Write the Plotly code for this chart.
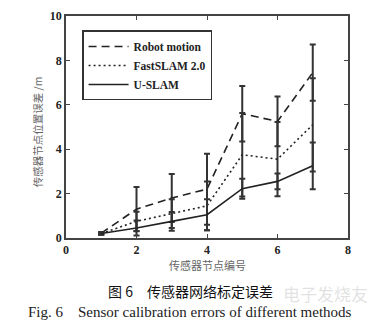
import plotly.graph_objects as go

nodes = [1, 2, 3, 4, 5, 6, 7]
robot = [0.22, 1.3, 1.8, 2.2, 5.6, 5.25, 7.45]
robot_err = [0.05, 1.0, 1.08, 1.6, 1.25, 1.12, 1.27]
fast = [0.2, 0.75, 1.1, 1.45, 3.75, 3.55, 5.1]
fast_err = [0.05, 0.43, 0.65, 1.1, 1.88, 1.67, 2.1]
uslam = [0.2, 0.45, 0.75, 1.05, 2.22, 2.55, 3.25]
uslam_err = [0.05, 0.34, 0.42, 0.7, 0.45, 0.35, 1.05]

names = ["Robot motion", "FastSLAM 2.0", "U-SLAM"]
dashes = ["8px,5px", "2px,3px", "solid"]
series = [(robot, robot_err), (fast, fast_err), (uslam, uslam_err)]

serif = "Liberation Serif, Times New Roman, serif"
cjk = "Noto Sans CJK SC"

fig = go.Figure()
for name, dash, (vals, errs) in zip(names, dashes, series):
    fig.add_trace(go.Scatter(
        x=nodes, y=vals, name=name, mode="lines",
        line=dict(color="#222222", width=1.6, dash=dash),
        error_y=dict(type="data", array=errs, visible=True,
                     color="#333333", thickness=2, width=3),
    ))

fig.update_layout(
    width=388, height=335,
    margin=dict(l=66, r=40, t=9, b=97),
    paper_bgcolor="white", plot_bgcolor="white",
    showlegend=True,
    legend=dict(x=0.057, y=0.935, xanchor="left", yanchor="top",
                bgcolor="white", bordercolor="#333333", borderwidth=1.5,
                font=dict(family=serif, size=11.5, color="#222222", weight="bold"),
                tracegroupgap=0, itemwidth=40),
    font=dict(family=serif, size=12, color="#222222"),
)
axis_common = dict(showline=True, linecolor="#444444", linewidth=1.5, mirror="ticks",
                   ticks="inside", ticklen=4, tickcolor="#444444", showgrid=False,
                   zeroline=False,
                   tickfont=dict(family=serif, size=12, color="#222222", weight="bold"))
fig.update_xaxes(range=[0, 8], tickvals=[0, 2, 4, 6, 8], **axis_common)
fig.update_yaxes(range=[0, 10], tickvals=[0, 2, 4, 6, 8, 10], **axis_common)

fig.add_annotation(text="传感器节点编号", xref="paper", yref="paper", x=0.5, y=-0.122,
                   showarrow=False, font=dict(family=cjk, size=11, color="#666666"),
                   xanchor="center", yanchor="middle")
fig.add_annotation(text="传感器节点位置误差 /m", xref="paper", yref="paper", x=-0.1, y=0.48,
                   showarrow=False, textangle=-90, font=dict(family=cjk, size=10.5, color="#666666"),
                   xanchor="center", yanchor="middle")
fig.add_annotation(text="电子发烧友", xref="paper", yref="paper", x=0.92, y=-0.249,
                   showarrow=False, font=dict(family=cjk, size=17, color="rgba(170,170,170,0.35)"),
                   xanchor="center", yanchor="middle")
fig.add_annotation(text="图 6　传感器网络标定误差", xref="paper", yref="paper", x=0.44, y=-0.24,
                   showarrow=False, font=dict(family=cjk, size=14, color="#111111"),
                   xanchor="center", yanchor="middle")
fig.add_annotation(text="Fig. 6　Sensor calibration errors of different methods", xref="paper", yref="paper",
                   x=0.44, y=-0.335, showarrow=False, font=dict(family=serif, size=15, color="#222222"),
                   xanchor="center", yanchor="middle")

fig.write_html("out.html")
